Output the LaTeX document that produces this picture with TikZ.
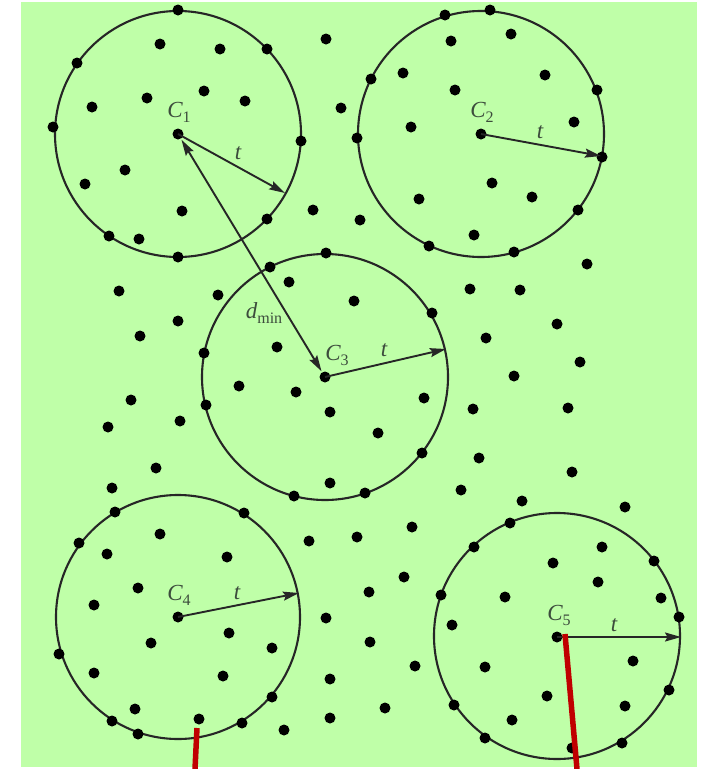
\documentclass[tikz,border=0pt]{standalone}
\usepackage{fontspec}
\setmainfont{Liberation Serif}
\usetikzlibrary{arrows.meta}
\definecolor{bggreen}{RGB}{191,255,168}
\definecolor{labgrey}{RGB}{60,76,60}
\definecolor{redbar}{RGB}{192,0,0}
\newcommand{\mylab}[2]{{\itshape #1}\raisebox{-5pt}{\fontsize{16}{16}\selectfont #2}}
\begin{document}
\begin{tikzpicture}[x=1pt,y=-1pt,
  dot/.style={circle,fill=black,inner sep=0pt,minimum size=11pt},
  ring/.style={line width=2.1pt,draw=black!85},
  radarrow/.style={line width=1.9pt,draw=black!85,-{Stealth[length=16pt,width=9pt,inset=2.5pt]}},
  dblarrow/.style={line width=1.9pt,draw=black!85,{Stealth[length=16pt,width=9pt,inset=2.5pt]}-{Stealth[length=16pt,width=9pt,inset=2.5pt]}},
  lab/.style={text=labgrey,font=\fontsize{23}{23}\selectfont,inner sep=0pt},
  redline/.style={line width=5.5pt,draw=redbar}]
\useasboundingbox (0,0) rectangle (704,769);
\fill[bggreen] (21,2) rectangle (697,767);
% centres
\node[dot] (c1) at (178,134) {};
\node[dot] (c2) at (481,134) {};
\node[dot] (c3) at (325,377) {};
\node[dot] (c4) at (178,617) {};
\node[dot] (c5) at (557,637) {};
% big circles
\draw[ring] (178,134) circle[radius=123];
\draw[ring] (481,134) circle[radius=123];
\draw[ring] (325,377) circle[radius=123];
\draw[ring] (178,617) circle[radius=122];
\draw[ring] (557,636) circle[radius=123];
% dots
\foreach \x/\y [count=\i] in {
 178/10,160/44,220/49,267/49,77/63,326/39,147/98,204/91,245/101,92/107,53/127,341/108,
 301/141,125/170,85/184,313/210,182/211,267/219,109/236,139/239,178/257,
 490/10,445/15,511/34,451/41,403/73,545/75,371/79,597/90,455/90,411/127,574/122,357/138,
 602/157,492/183,532/197,419/199,578/210,360/220,474/235,429/246,514/252,587/264,
 326/253,270/267,289/282,218/295,354/301,470/289,432/313,178/321,486/338,277/347,204/353,
 239/386,296/392,424/398,206/405,330/412,473/409,180/421,378/433,422/453,479/458,156/468,
 330/483,461/490,294/496,365/493,
 119/291,140/336,131/400,108/427,112/488,
 520/290,557/324,580/362,514/376,568/408,572/472,522/501,625/507,
 115/512,244/513,160/534,79/543,309/541,357/537,107/554,227/557,138/588,94/605,
 326/618,229/633,151/643,272/648,59/654,94/673,223/676,330/679,272/697,135/709,330/718,
 199/719,112/721,242/723,284/730,138/734,
 412/527,510/523,474/547,602/547,553/563,654/561,598/582,404/577,369/592,441/595,505/597,
 661/598,679/617,452/625,370/642,633/661,415/666,485/667,669/690,547/696,625/706,385/708,
 454/705,512/720,485/738,622/743,572/748}
 \node[dot] (d\i) at (\x,\y) {};
% arrow ends
\coordinate (e1) at (285,193);
\coordinate (e2) at (601,156);
\coordinate (e3) at (446,349);
\coordinate (e4) at (299,593);
\coordinate (e5) at (681,637);
\draw[radarrow] (c1.center) -- (e1);
\draw[radarrow] (c2.center) -- (e2);
\draw[radarrow] (c3.center) -- (e3);
\draw[radarrow] (c4.center) -- (e4);
\draw[radarrow] (c5.center) -- (e5);
\draw[dblarrow,shorten <=1pt,shorten >=1pt] (c1) -- (c3);
% labels
\node[lab] (l1) at (179,112) {\mylab{C}{1}};
\node[lab] (l2) at (482,112) {\mylab{C}{2}};
\node[lab] (l3) at (337,355) {\mylab{C}{3}};
\node[lab] (l4) at (179,595) {\mylab{C}{4}};
\node[lab] (l5) at (559,615) {\mylab{C}{5}};
\node[lab] (t1) at (238,153) {\itshape t};
\node[lab] (t2) at (540,132) {\itshape t};
\node[lab] (t3) at (384,350) {\itshape t};
\node[lab] (t4) at (237,593) {\itshape t};
\node[lab] (t5) at (614,625) {\itshape t};
\node[lab] (dm) at (264,313) {\mylab{d}{min}};
% red bars
\coordinate (r1a) at (197,728);
\coordinate (r1b) at (195,769);
\coordinate (r2a) at (565,634);
\coordinate (r2b) at (577,769);
\draw[redline] (r1a) -- (r1b);
\draw[redline] (r2a) -- (r2b);
\end{tikzpicture}
\end{document}
